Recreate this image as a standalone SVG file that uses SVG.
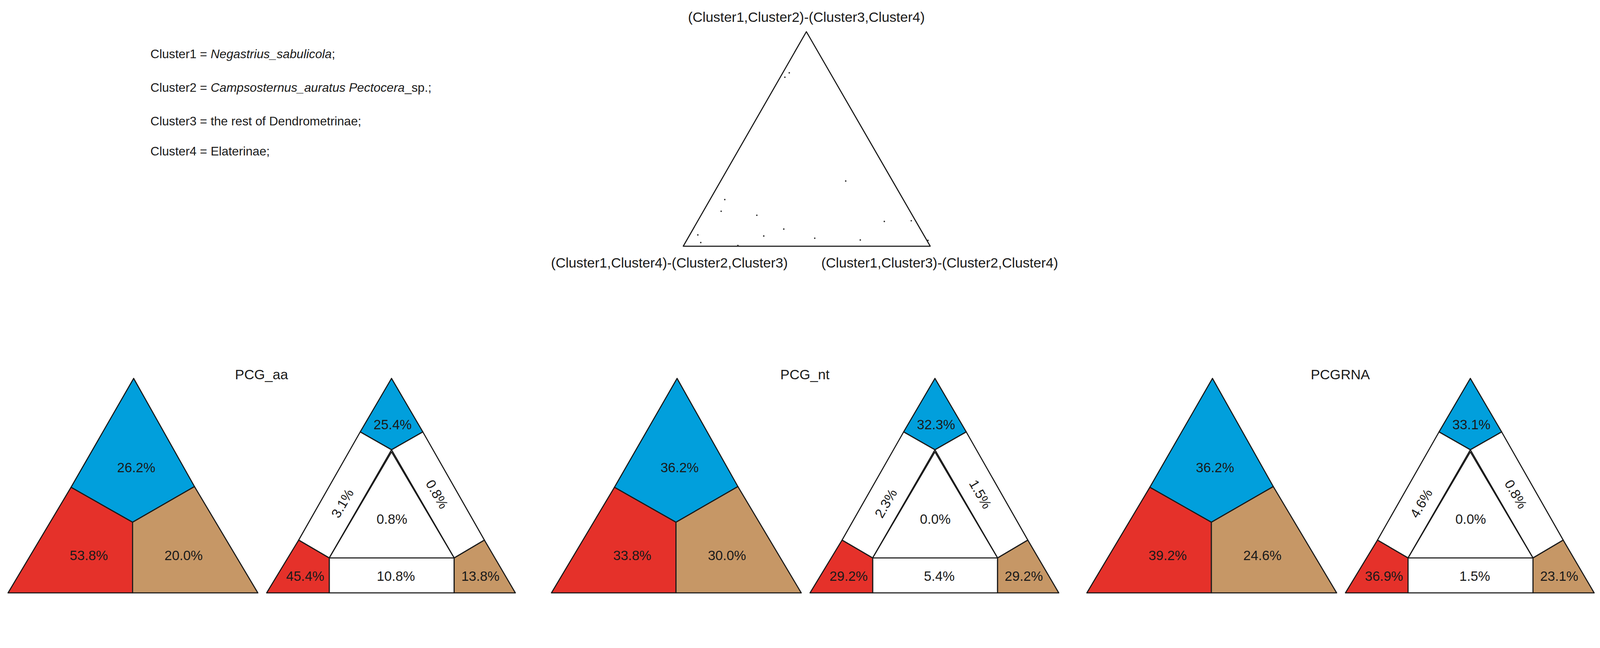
<svg xmlns="http://www.w3.org/2000/svg" width="4393" height="1659" viewBox="0 0 4393 1659" preserveAspectRatio="xMinYMin meet">
<style>
svg:root{width:100vw;height:100vh;display:block}
text{font-family:"Liberation Sans",Arial,sans-serif;fill:#1a1a1a}
.t{font-size:34px}
.p{font-size:37px;text-anchor:middle}
.h{font-size:38px;text-anchor:middle}
.s{stroke:#1a1a1a;stroke-width:3;stroke-linejoin:round}
.b{fill:#019fdc}.r{fill:#e5312a}.n{fill:#c69766}.w{fill:#fff}
</style>
<rect width="4393" height="1659" fill="#fff"/>
<g id="legend" class="t">
<text x="413" y="160">Cluster1 = <tspan font-style="italic">Negastrius_sabulicola</tspan>;</text>
<text x="413" y="252">Cluster2 = <tspan font-style="italic">Campsosternus_auratus Pectocera</tspan>_sp.;</text>
<text x="413" y="344">Cluster3 = the rest of Dendrometrinae;</text>
<text x="413" y="427">Cluster4 = Elaterinae;</text>
</g>
<g id="simplex">
<polygon points="2214,87 1876,676 2554,676" fill="none" class="s"/>
<g fill="#222">
<circle cx="2155" cy="212" r="2"/><circle cx="2167" cy="200" r="2"/><circle cx="2322" cy="497" r="2"/>
<circle cx="1990" cy="548" r="2"/><circle cx="1980" cy="580" r="2"/><circle cx="2078" cy="591" r="2"/>
<circle cx="2152" cy="629" r="2"/><circle cx="2097" cy="648" r="2"/><circle cx="2237" cy="654" r="2"/>
<circle cx="2362" cy="659" r="2"/><circle cx="2428" cy="608" r="2"/><circle cx="2502" cy="606" r="2"/>
<circle cx="1916" cy="645" r="2"/><circle cx="1924" cy="666" r="2"/><circle cx="2026" cy="674" r="2"/>
<circle cx="2548" cy="660" r="2"/>
</g>
<text class="h" x="2214" y="60" font-size="34">(Cluster1,Cluster2)-(Cluster3,Cluster4)</text>
<text class="h" x="1838" y="735" font-size="34">(Cluster1,Cluster4)-(Cluster2,Cluster3)</text>
<text class="h" x="2580" y="735" font-size="34">(Cluster1,Cluster3)-(Cluster2,Cluster4)</text>
</g>
<defs>
<g id="shapes">
<polygon class="b s" points="367,1039 534,1336 364,1434 195,1338"/>
<polygon class="r s" points="195,1338 364,1434 364,1628 22,1628"/>
<polygon class="n s" points="534,1336 708,1628 364,1628 364,1434"/>
<polygon class="b s" points="1075,1039 1161,1186 1075,1235 989,1186"/>
<polygon class="w s" points="989,1186 1075,1235 904,1532 820,1483"/>
<polygon class="w s" points="1161,1186 1330,1483 1247,1532 1075,1235"/>
<polygon class="w s" points="1075,1241 1247,1532 904,1532"/>
<polygon class="w s" points="904,1532 1247,1532 1247,1628 904,1628"/>
<polygon class="r s" points="820,1483 904,1532 904,1628 732,1628"/>
<polygon class="n s" points="1330,1483 1415,1628 1247,1628 1247,1532"/>
</g>
</defs>
<g id="pcg_aa">
<use href="#shapes"/>
<text class="h" x="718" y="1041">PCG_aa</text>
<g class="p">
<text x="374" y="1297">26.2%</text><text x="244" y="1538">53.8%</text><text x="504" y="1538">20.0%</text>
<text x="1078" y="1179">25.4%</text>
<text transform="translate(940,1382) rotate(-60)" y="13">3.1%</text>
<text transform="translate(1200,1357) rotate(60)" y="13">0.8%</text>
<text x="1076" y="1438">0.8%</text>
<text x="838" y="1595">45.4%</text><text x="1087" y="1595">10.8%</text><text x="1319" y="1595">13.8%</text>
</g>
</g>
<g id="pcg_nt" transform="translate(1492,0)">
<use href="#shapes"/>
<text class="h" x="718" y="1041">PCG_nt</text>
<g class="p">
<text x="374" y="1297">36.2%</text><text x="244" y="1538">33.8%</text><text x="504" y="1538">30.0%</text>
<text x="1078" y="1179">32.3%</text>
<text transform="translate(940,1382) rotate(-60)" y="13">2.3%</text>
<text transform="translate(1200,1357) rotate(60)" y="13">1.5%</text>
<text x="1076" y="1438">0.0%</text>
<text x="838" y="1595">29.2%</text><text x="1087" y="1595">5.4%</text><text x="1319" y="1595">29.2%</text>
</g>
</g>
<g id="pcgrna" transform="translate(2962,0)">
<use href="#shapes"/>
<text class="h" x="718" y="1041">PCGRNA</text>
<g class="p">
<text x="374" y="1297">36.2%</text><text x="244" y="1538">39.2%</text><text x="504" y="1538">24.6%</text>
<text x="1078" y="1179">33.1%</text>
<text transform="translate(940,1382) rotate(-60)" y="13">4.6%</text>
<text transform="translate(1200,1357) rotate(60)" y="13">0.8%</text>
<text x="1076" y="1438">0.0%</text>
<text x="838" y="1595">36.9%</text><text x="1087" y="1595">1.5%</text><text x="1319" y="1595">23.1%</text>
</g>
</g>
</svg>
